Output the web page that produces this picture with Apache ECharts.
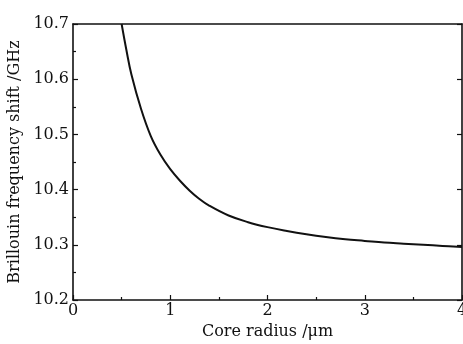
<!DOCTYPE html>
<html>
<head>
<meta charset="utf-8">
<script src="https://cdn.jsdelivr.net/npm/echarts@6/dist/echarts.min.js"></script>
<style>
  html, body { margin: 0; padding: 0; background: #fff; }
  #chart { width: 463px; height: 344px; }
</style>
</head>
<body>
<div id="chart"></div>
<script>
const radius = [0.5, 0.55, 0.6, 0.7, 0.8, 0.9, 1.0, 1.1, 1.2, 1.3, 1.4, 1.6, 1.8, 2.0, 2.2, 2.4, 2.6, 2.8, 3.0, 3.2, 3.4, 3.6, 3.8, 4.0];
const shift = [10.700, 10.652, 10.609, 10.546, 10.497, 10.463, 10.437, 10.416, 10.398, 10.383, 10.371, 10.353, 10.341, 10.332, 10.325, 10.319, 10.314, 10.310, 10.307, 10.304, 10.302, 10.300, 10.298, 10.296];

const font = '"DejaVu Serif", "Liberation Serif", serif';
const chart = echarts.init(document.getElementById('chart'));
const axisLine = { show: true, onZero: false, lineStyle: { color: '#111', width: 1.6 } };
const tick = { show: true, inside: true, length: 5, lineStyle: { color: '#111', width: 1.2 } };
const minor = { show: true, splitNumber: 2, length: 3, lineStyle: { color: '#111', width: 1.2 } };

chart.setOption({
  animation: false,
  backgroundColor: '#fff',
  grid: { left: 73, right: 1, top: 24, bottom: 44, outerBoundsMode: 'none', containLabel: false },
  xAxis: [{
    type: 'value', min: 0, max: 4, interval: 1,
    name: 'Core radius /\u03bcm', nameLocation: 'middle', nameGap: 24,
    nameTextStyle: { fontFamily: font, fontSize: 16, color: '#111' },
    axisLine, axisTick: tick, minorTick: minor,
    splitLine: { show: false },
    axisLabel: { fontFamily: font, fontSize: 16, color: '#111', margin: 3 }
  }, {
    type: 'value', position: 'top', min: 0, max: 4,
    axisLine, axisTick: { show: false }, axisLabel: { show: false }, splitLine: { show: false }
  }],
  yAxis: [{
    type: 'value', min: 10.2, max: 10.7, interval: 0.1,
    name: 'Brillouin frequency shift /GHz', nameLocation: 'middle', nameGap: 47,
    nameTextStyle: { fontFamily: font, fontSize: 16, color: '#111' },
    axisLine, axisTick: tick, minorTick: minor,
    splitLine: { show: false },
    axisLabel: { fontFamily: font, fontSize: 16, color: '#111', margin: 4, formatter: v => v.toFixed(1) }
  }, {
    type: 'value', position: 'right', min: 10.2, max: 10.7, interval: 0.1,
    axisLine, axisTick: tick, axisLabel: { show: false }, splitLine: { show: false }
  }],
  series: [{
    type: 'line', smooth: 0.4, symbol: 'none',
    data: radius.map((r, i) => [r, shift[i]]),
    lineStyle: { color: '#111', width: 2 }
  }]
});
</script>
</body>
</html>
